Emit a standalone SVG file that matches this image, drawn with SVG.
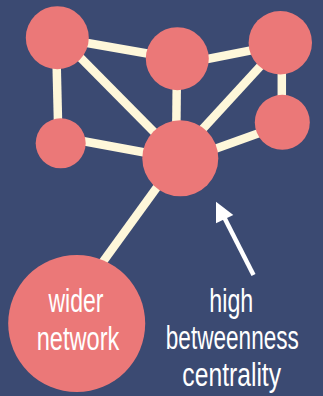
<svg xmlns="http://www.w3.org/2000/svg" width="323" height="396" viewBox="0 0 323 396">
  <style>
    .edge { stroke: #FEF7DA; stroke-width: 8.5; stroke-linecap: butt; fill: none; }
    .node { fill: #EB7878; }
    .label { fill: #FFFFFF; font-family: "Liberation Sans Narrow", "Liberation Sans", Arial, sans-serif; font-size: 34px; text-anchor: middle; }
    .arrow { stroke: #FFFFFF; stroke-width: 4.5; fill: none; }
  </style>
  <rect x="0" y="0" width="323" height="396" fill="#3B4A72"/>
  <g id="connectors">
    <line class="edge" x1="57.3" y1="37.7" x2="177.3" y2="58.7"/>
    <line class="edge" x1="56" y1="38" x2="58.5" y2="143"/>
    <line class="edge" x1="61" y1="38" x2="180" y2="158.3"/>
    <line class="edge" x1="177" y1="65" x2="280.3" y2="44.6"/>
    <line class="edge" x1="177" y1="60" x2="176" y2="158"/>
    <line class="edge" x1="282" y1="42.7" x2="176" y2="158"/>
    <line class="edge" x1="281.8" y1="42.7" x2="281.8" y2="122.3"/>
    <line class="edge" x1="60.7" y1="137" x2="180" y2="159"/>
    <line class="edge" x1="282.3" y1="124.7" x2="180" y2="161.5"/>
    <line class="edge" x1="178" y1="158.3" x2="60" y2="321"/>
  </g>
  <g id="node-a"><circle class="node" cx="57.3" cy="37.7" r="31.5"/></g>
  <g id="node-b"><circle class="node" cx="177.3" cy="58.7" r="31.5"/></g>
  <g id="node-c"><circle class="node" cx="280.3" cy="42.7" r="31.7"/></g>
  <g id="node-d"><circle class="node" cx="60.7" cy="143.3" r="25"/></g>
  <g id="node-e"><circle class="node" cx="282.3" cy="122.3" r="27.5"/></g>
  <g id="node-f"><circle class="node" cx="180.3" cy="158.3" r="38"/></g>
  <g id="node-wider-network">
    <circle class="node" cx="76.7" cy="323.5" r="68.5"/>
    <text class="label" transform="matrix(0.72 0 0 1 76 0)" x="0" y="312.3" textLength="76.4" lengthAdjust="spacingAndGlyphs">wider</text>
    <text class="label" transform="matrix(0.72 0 0 1 78 0)" x="0" y="350" textLength="114.7" lengthAdjust="spacingAndGlyphs">network</text>
  </g>
  <g id="annotation">
    <line class="arrow" x1="253.5" y1="275" x2="223" y2="215"/>
    <polygon fill="#FFFFFF" points="216,201.7 233.3,215 216,223.3"/>
    <text class="label" transform="matrix(0.72 0 0 1 231.3 0)" x="0" y="311.7" textLength="61.1" lengthAdjust="spacingAndGlyphs">high</text>
    <text class="label" transform="matrix(0.72 0 0 1 232.3 0)" x="0" y="349.3" textLength="184.7" lengthAdjust="spacingAndGlyphs">betweenness</text>
    <text class="label" transform="matrix(0.72 0 0 1 231.7 0)" x="0" y="386.5" textLength="137.1" lengthAdjust="spacingAndGlyphs">centrality</text>
  </g>
</svg>
